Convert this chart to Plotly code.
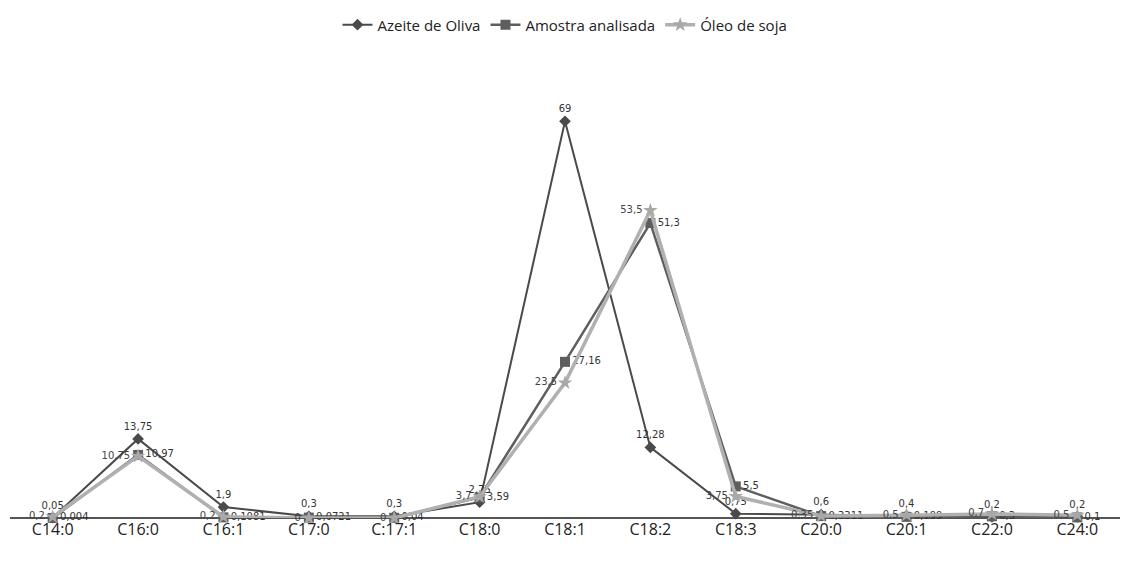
import plotly.graph_objects as go

categories = ["C14:0", "C16:0", "C16:1", "C17:0", "C:17:1", "C18:0", "C18:1",
              "C18:2", "C18:3", "C20:0", "C20:1", "C22:0", "C24:0"]
azeite = [0.05, 13.75, 1.9, 0.3, 0.3, 2.75, 69, 12.28, 0.75, 0.6, 0.4, 0.2, 0.2]
amostra = [0.004, 10.97, 0.1081, 0.0721, 0.04, 3.59, 27.16, 51.3, 5.5, 0.3311, 0.199, 0.3, 0.1]
soja = [0.2, 10.75, 0.2, 0, 0, 3.7, 23.5, 53.5, 3.75, 0.35, 0.5, 0.7, 0.5]


def fmt(vals):
    return [("%g" % v).replace(".", ",") for v in vals]


fig = go.Figure()
fig.add_trace(go.Scatter(
    x=categories, y=azeite, name="Azeite de Oliva", mode="lines+markers+text",
    line=dict(color="#4a4a4a", width=2),
    marker=dict(symbol="diamond", size=9, color="#4a4a4a"),
    text=fmt(azeite), textposition="top center",
    textfont=dict(family="DejaVu Sans", size=10, color="#333333"),
    cliponaxis=False))
fig.add_trace(go.Scatter(
    x=categories, y=amostra, name="Amostra analisada", mode="lines+markers+text",
    line=dict(color="#5e5e5e", width=2.5),
    marker=dict(symbol="square", size=10, color="#5e5e5e"),
    text=fmt(amostra), textposition="middle right",
    textfont=dict(family="DejaVu Sans", size=10, color="#333333"),
    cliponaxis=False))
fig.add_trace(go.Scatter(
    x=categories, y=soja, name="Óleo de soja", mode="lines+markers+text",
    line=dict(color="#b0b0b0", width=3.5),
    marker=dict(symbol="star", size=11, color="#a8a8a8"),
    text=fmt(soja), textposition="middle left",
    textfont=dict(family="DejaVu Sans", size=10, color="#444444"),
    cliponaxis=False))

fig.update_layout(
    width=1124, height=564,
    paper_bgcolor="white", plot_bgcolor="white",
    margin=dict(l=10, r=4, t=58, b=46, autoexpand=False),
    font=dict(family="Open Sans", color="#222222"),
    legend=dict(orientation="h", x=0.5, xanchor="center", y=0.985, yanchor="top",
                yref="container", font=dict(size=15), bgcolor="rgba(0,0,0,0)"),
    showlegend=True,
)
fig.update_xaxes(type="category", range=[-0.5, 12.5], showgrid=False,
                 showline=False, ticks="", tickfont=dict(size=16, color="#222222"),
                 zeroline=False)
fig.update_yaxes(range=[0, 80], visible=True, showgrid=False, showticklabels=False,
                 zeroline=True, zerolinecolor="#555555", zerolinewidth=1.5,
                 showline=False, ticks="")

fig.write_html("out.html", config={"displayModeBar": False},
               post_script="document.body.style.margin='0';document.body.style.padding='0';")
